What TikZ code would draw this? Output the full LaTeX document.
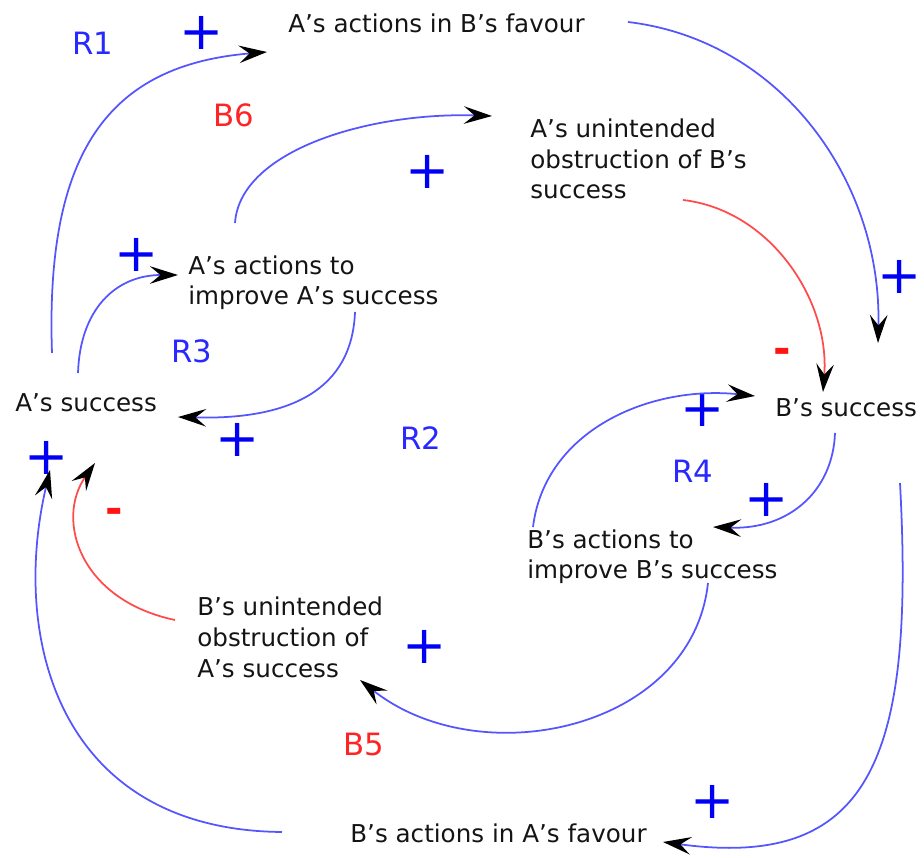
\documentclass[tikz,border=0pt]{standalone}
\usepackage{fontspec}
\setmainfont{DejaVu Sans}
\usetikzlibrary{arrows.meta}
\definecolor{loopblue}{RGB}{40,40,255}
\definecolor{loopred}{RGB}{255,35,35}
\definecolor{linkblue}{RGB}{85,85,255}
\definecolor{linkred}{RGB}{255,75,75}
\definecolor{signblue}{RGB}{0,0,245}
\definecolor{signred}{RGB}{255,20,20}

\begin{document}
\begin{tikzpicture}[x=0.02cm,y=-0.02cm,
  var/.style={anchor=base west,inner sep=0pt,align=left,text=black!92,font=\fontsize{14}{17.6}\selectfont},
  looplbl/.style={anchor=base west,inner sep=0pt,font=\fontsize{17.5}{20}\selectfont},
  possign/.style={inner sep=0pt,text=signblue,font=\fontsize{30}{30}\selectfont},
  negsign/.style={inner sep=0pt,text=signred,font=\bfseries\fontsize{24}{24}\selectfont},
  link/.style={linkblue,line width=1pt,-{Stealth[color=black,length=16pt,width=10pt,inset=6pt]}},
  redlink/.style={link,linkred}]
 \useasboundingbox (0,0) rectangle (924,858);
 \node[var] (afav) at (288,33) {A's actions in B's favour};
 \node[var] (aobs) at (530,199) {A's unintended\\obstruction of B's\\success};
 \node[var] (aimp) at (188,305) {A's actions to\\improve A's success};
 \node[var] (asucc) at (15,412) {A's success};
 \node[var] (bsucc) at (775,417) {B's success};
 \node[var] (bimp) at (527,579) {B's actions to\\improve B's success};
 \node[var] (bobs) at (197,677) {B's unintended\\obstruction of\\A's success};
 \node[var] (bfav) at (350,842) {B's actions in A's favour};

 \node[looplbl,text=loopblue] (r1) at (72,55) {R1};
 \node[looplbl,text=loopred] (b6) at (213,127) {B6};
 \node[looplbl,text=loopblue] (r3) at (171,363) {R3};
 \node[looplbl,text=loopblue] (r2) at (400,450) {R2};
 \node[looplbl,text=loopblue] (r4) at (672,482) {R4};
 \node[looplbl,text=loopred] (b5) at (343,755) {B5};

 \node[possign] (p1) at (202,33) {+};
 \node[possign] (p2) at (428,172) {+};
 \node[possign] (p3) at (900,277) {+};
 \node[possign] (p4) at (137,255) {+};
 \node[possign] (p5) at (238,440) {+};
 \node[possign] (p6) at (703,410) {+};
 \node[possign] (p7) at (767,500) {+};
 \node[possign] (p8) at (47,458) {+};
 \node[possign] (p9) at (425,647) {+};
 \node[possign] (p10) at (713,802) {+};
 \node[negsign] (m1) at (782,356) {-};
 \node[negsign] (m2) at (114,516) {-};

 \draw[link] ([shift={(37,-59)}]asucc.base west) .. controls +(-7,-203) and +(-157,13) .. ([shift={(-21,19)}]afav.base west);
 \draw[link] ([shift={(340,-11)}]afav.base west) .. controls +(152,18) and +(4,-163) .. ([shift={(103,-74)}]bsucc.base west);
 \draw[link] ([shift={(47,-82)}]aimp.base west) .. controls +(5,-73) and +(-122,-4) .. ([shift={(-38,-83)}]aobs.base west);
 \draw[redlink] ([shift={(153,1)}]aobs.base west) .. controls +(87,10) and +(7,-92) .. ([shift={(48,-25)}]bsucc.base west);
 \draw[link] ([shift={(63,-39)}]asucc.base west) .. controls +(2,-63) and +(-63,0) .. ([shift={(-10,-30)}]aimp.base west);
 \draw[link] ([shift={(167,7)}]aimp.base west) .. controls +(-3,78) and +(112,3) .. ([shift={(163,5)}]asucc.base west);
 \draw[link] ([shift={(6,-52)}]bimp.base west) .. controls +(12,-97) and +(-105,-11) .. ([shift={(-20,-21)}]bsucc.base west);
 \draw[link] ([shift={(60,16)}]bsucc.base west) .. controls +(-2,57) and +(77,3) .. ([shift={(186,-52)}]bimp.base west);
 \draw[link] ([shift={(181,4)}]bimp.base west) .. controls +(-16,147) and +(120,95) .. ([shift={(163,3)}]bobs.base west);
 \draw[link] ([shift={(125,66)}]bsucc.base west) .. controls +(15,277) and +(207,28) .. ([shift={(313,0)}]bfav.base west);
 \draw[link] ([shift={(-68,-10)}]bfav.base west) .. controls +(-222,-2) and +(-40,170) .. ([shift={(35,58)}]asucc.base west);
 \draw[redlink] ([shift={(-22,-57)}]bobs.base west) .. controls +(-95,-20) and +(-40,57) .. ([shift={(80,51)}]asucc.base west);
\end{tikzpicture}
\end{document}
